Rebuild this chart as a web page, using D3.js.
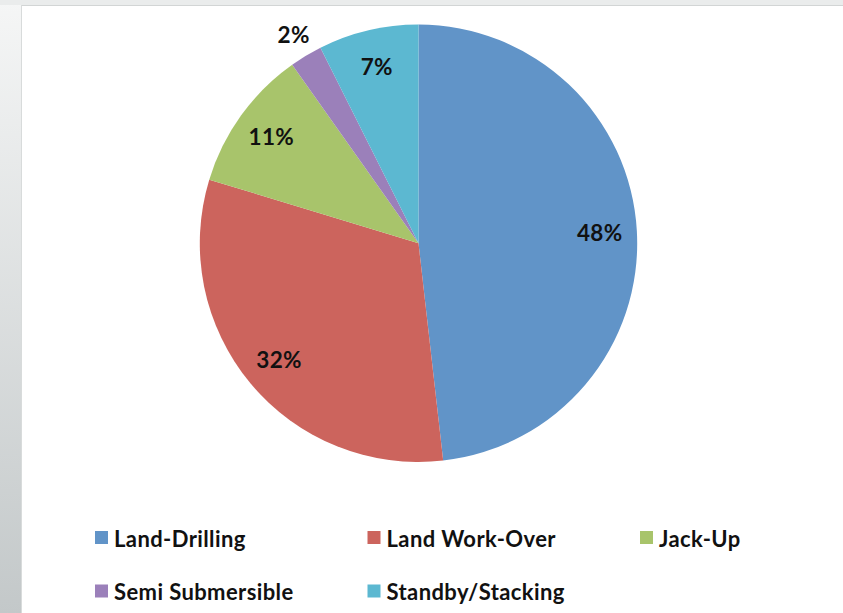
<!DOCTYPE html>
<html>
<head>
<meta charset="utf-8">
<script src="https://cdn.jsdelivr.net/npm/d3@7/dist/d3.min.js"></script>
<style>
  html, body { margin: 0; padding: 0; background: #ffffff; }
  svg { display: block; }
</style>
</head>
<body>
<svg id="chart" width="843" height="613"></svg>
<script>
// ---- data ----
const categories = ["Land-Drilling", "Land Work-Over", "Jack-Up", "Semi Submersible", "Standby/Stacking"];
const shares = [48.2, 31.5, 10.5, 2.4, 7.4];
const colors = ["#6194c8", "#cc645d", "#a8c46b", "#9b80ba", "#5cb8d1"];

const W = 843, H = 613;
const svg = d3.select("#chart");
const defs = svg.append("defs");

// background frame
const g1 = defs.append("linearGradient").attr("id", "leftband").attr("x1", 0).attr("y1", 0).attr("x2", 0).attr("y2", 1);
g1.append("stop").attr("offset", "0%").attr("stop-color", "#f5f6f6");
g1.append("stop").attr("offset", "100%").attr("stop-color", "#c3c8c9");
svg.append("rect").attr("x", 0).attr("y", 0).attr("width", W).attr("height", H).attr("fill", "#ffffff");
svg.append("rect").attr("x", 0).attr("y", 0).attr("width", 21).attr("height", H).attr("fill", "url(#leftband)");
svg.append("rect").attr("x", 0).attr("y", 0).attr("width", W).attr("height", 5).attr("fill", "#eaecec");
svg.append("line").attr("x1", 21).attr("x2", W).attr("y1", 5.5).attr("y2", 5.5).attr("stroke", "#d2d5d5").attr("stroke-width", 1);
svg.append("line").attr("x1", 21.5).attr("x2", 21.5).attr("y1", 5).attr("y2", H).attr("stroke", "#d8dbdb").attr("stroke-width", 1);

// pie
const cx = 418.5, cy = 243.3, R = 218.7;
const pie = d3.pie().sort(null).value(d => d);
const arcs = pie(shares);
const arc = d3.arc().innerRadius(0).outerRadius(R);
const gp = svg.append("g").attr("transform", `translate(${cx},${cy})`);
gp.selectAll("path.slice").data(arcs).enter().append("path")
  .attr("class", "slice")
  .attr("d", arc)
  .attr("fill", (d, i) => colors[i]);

const fontFam = "Lato, 'Open Sans', 'Liberation Sans', sans-serif";
const inner = d3.arc().innerRadius(R * 0.83).outerRadius(R * 0.83);
const outer = d3.arc().innerRadius(R * 1.11).outerRadius(R * 1.11);
gp.selectAll("text.lbl").data(arcs).enter().append("text")
  .attr("class", "lbl")
  .attr("transform", d => {
    const c = (d.endAngle - d.startAngle) < 0.2 ? outer.centroid(d) : inner.centroid(d);
    return `translate(${c[0]},${c[1]})`;
  })
  .attr("text-anchor", "middle")
  .attr("dy", "0.36em")
  .attr("font-family", fontFam)
  .attr("font-weight", "bold")
  .attr("font-size", 22.5)
  .attr("letter-spacing", 0.3)
  .attr("fill", "#111111")
  .text(d => Math.round(d.data) + "%");

// legend
const colX = d3.scaleLinear().domain([0, 1]).range([95, 367.5]);
const rowY = d3.scaleLinear().domain([0, 1]).range([531, 584.5]);
const leg = svg.append("g");
const items = leg.selectAll("g.item").data(categories).enter().append("g")
  .attr("class", "item")
  .attr("transform", (d, i) => `translate(${colX(i % 3)},${rowY(Math.floor(i / 3))})`);
items.append("rect").attr("width", 13).attr("height", 13).attr("fill", (d, i) => colors[i]);
items.append("text")
  .attr("x", 19).attr("y", 15.5)
  .attr("font-family", fontFam)
  .attr("font-weight", "bold")
  .attr("font-size", 22)
  .attr("letter-spacing", 0.4)
  .attr("fill", "#111111")
  .text(d => d);
</script>
</body>
</html>
